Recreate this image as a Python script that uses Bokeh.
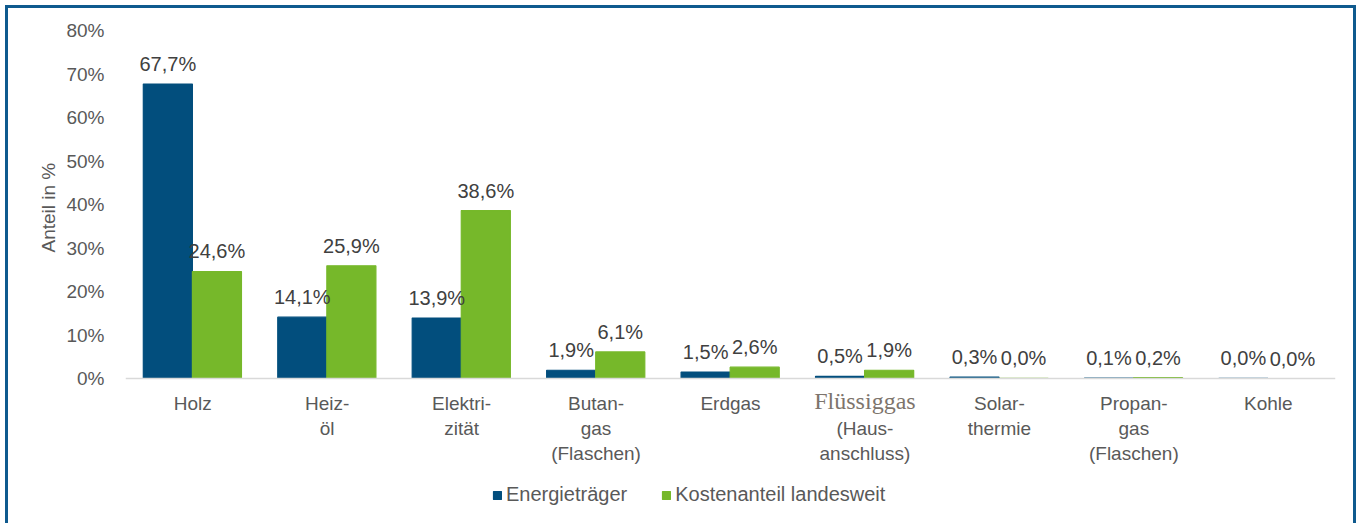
from bokeh.plotting import figure
from bokeh.models import (FactorRange, Range1d, ColumnDataSource, Legend, LegendItem,
                          FixedTicker, Span, Title)
from bokeh.transform import dodge
from bokeh.core.properties import value
from bokeh.embed import file_html
from bokeh.resources import INLINE

categories = ["Holz", "Heizöl", "Elektrizität", "Butangas", "Erdgas", "Flüssiggas",
              "Solarthermie", "Propangas", "Kohle"]
tick_labels = ["Holz", "Heiz-\nöl", "Elektri-\nzität", "Butan-\ngas\n(Flaschen)", "Erdgas",
               " \n(Haus-\nanschluss)", "Solar-\nthermie", "Propan-\ngas\n(Flaschen)", "Kohle"]
serif_label = "Flüssiggas"
energietraeger = [67.7, 14.1, 13.9, 1.9, 1.5, 0.5, 0.3, 0.1, 0.04]
kostenanteil = [24.6, 25.9, 38.6, 6.1, 2.6, 1.9, 0.04, 0.2, 0.0]
series_names = ["Energieträger", "Kostenanteil landesweit"]
y_ticks = [0, 10, 20, 30, 40, 50, 60, 70, 80]
y_title = "Anteil in %"

BLUE = "#024e7d"
GREEN = "#76b82a"
GRAY = "#595959"
FONT = "Liberation Sans"
FS = "19px"
FS_BIG = "20px"

# layout: the frame reaches down to the bottom so that category labels and legend fit in it
HEIGHT, TOP = 518, 22
FRAME_H = HEIGHT - TOP
AXIS_H = 348
y_start = -y_ticks[-1] * (FRAME_H - AXIS_H) / AXIS_H

def fmt(v):
    return f"{v:.1f}%".replace(".", ",")

src = ColumnDataSource(dict(
    cat=categories,
    a=energietraeger,
    b=kostenanteil,
    la=[fmt(v) for v in energietraeger],
    lb=[fmt(v) for v in kostenanteil],
    tl=tick_labels,
    sl=[serif_label if c == serif_label else "" for c in categories],
))

p = figure(x_range=FactorRange(*categories, range_padding=0),
           y_range=Range1d(y_start, y_ticks[-1]),
           width=1351, height=HEIGHT, output_backend="svg", toolbar_location=None,
           x_axis_location=None,
           min_border_left=117, min_border_right=24, min_border_top=TOP, min_border_bottom=0)
p.styles = {"margin-left": "5px", "margin-top": "5px",
            "border-top": "3px solid #0f5a8e", "border-left": "3px solid #0f5a8e",
            "border-right": "3px solid #0f5a8e"}
p.outline_line_color = None
p.xgrid.visible = False
p.ygrid.visible = False

w = 0.365
ra = p.vbar(x=dodge("cat", -0.185, range=p.x_range), top="a", width=w, source=src,
            fill_color=BLUE, line_color=BLUE, line_width=1.2)
rb = p.vbar(x=dodge("cat", 0.18, range=p.x_range), top="b", width=w, source=src,
            fill_color=GREEN, line_color=GREEN, line_width=1.2)

for col, lcol, off in (("a", "la", -0.185), ("b", "lb", 0.18)):
    p.text(x=dodge("cat", off, range=p.x_range), y=col, text=lcol, source=src,
           text_align="center", text_baseline="bottom", y_offset=-9,
           text_font=value(FONT), text_font_size=FS_BIG, text_color="#404040")

# category axis line and labels
p.add_layout(Span(location=0, dimension="width", line_color="#d9d9d9", line_width=1.5))
p.text(x="cat", y=0, text="tl", source=src, text_align="center", text_baseline="top",
       y_offset=14, text_line_height=1.2,
       text_font=value(FONT), text_font_size=FS, text_color=GRAY)
p.text(x="cat", y=0, text="sl", source=src, text_align="center", text_baseline="top",
       y_offset=9, text_font=value("Liberation Serif"), text_font_size="24px",
       text_color="#7d746c")

# y axis
p.yaxis.ticker = FixedTicker(ticks=y_ticks)
p.yaxis.major_label_overrides = {t: f"{t}%" for t in y_ticks}
p.yaxis.axis_line_color = None
p.yaxis.major_tick_line_color = None
p.yaxis.minor_tick_line_color = None
p.yaxis.major_label_standoff = 15
p.yaxis.major_label_text_font = FONT
p.yaxis.major_label_text_font_size = FS
p.yaxis.major_label_text_color = GRAY
p.add_layout(Title(text=y_title, align="left", offset=274, standoff=9,
                   text_font=FONT, text_font_size=FS, text_font_style="normal",
                   text_color=GRAY), "left")

legend = Legend(items=[LegendItem(label=series_names[0], renderers=[ra]),
                       LegendItem(label=series_names[1], renderers=[rb])],
                orientation="horizontal", location=(367, 20),
                glyph_width=10, glyph_height=10, spacing=34, label_standoff=4,
                label_text_font=FONT, label_text_font_size=FS_BIG, label_text_color=GRAY,
                border_line_color=None, background_fill_alpha=0, padding=0, margin=0)
p.add_layout(legend)

open("out.html", "w").write(file_html(p, INLINE))
